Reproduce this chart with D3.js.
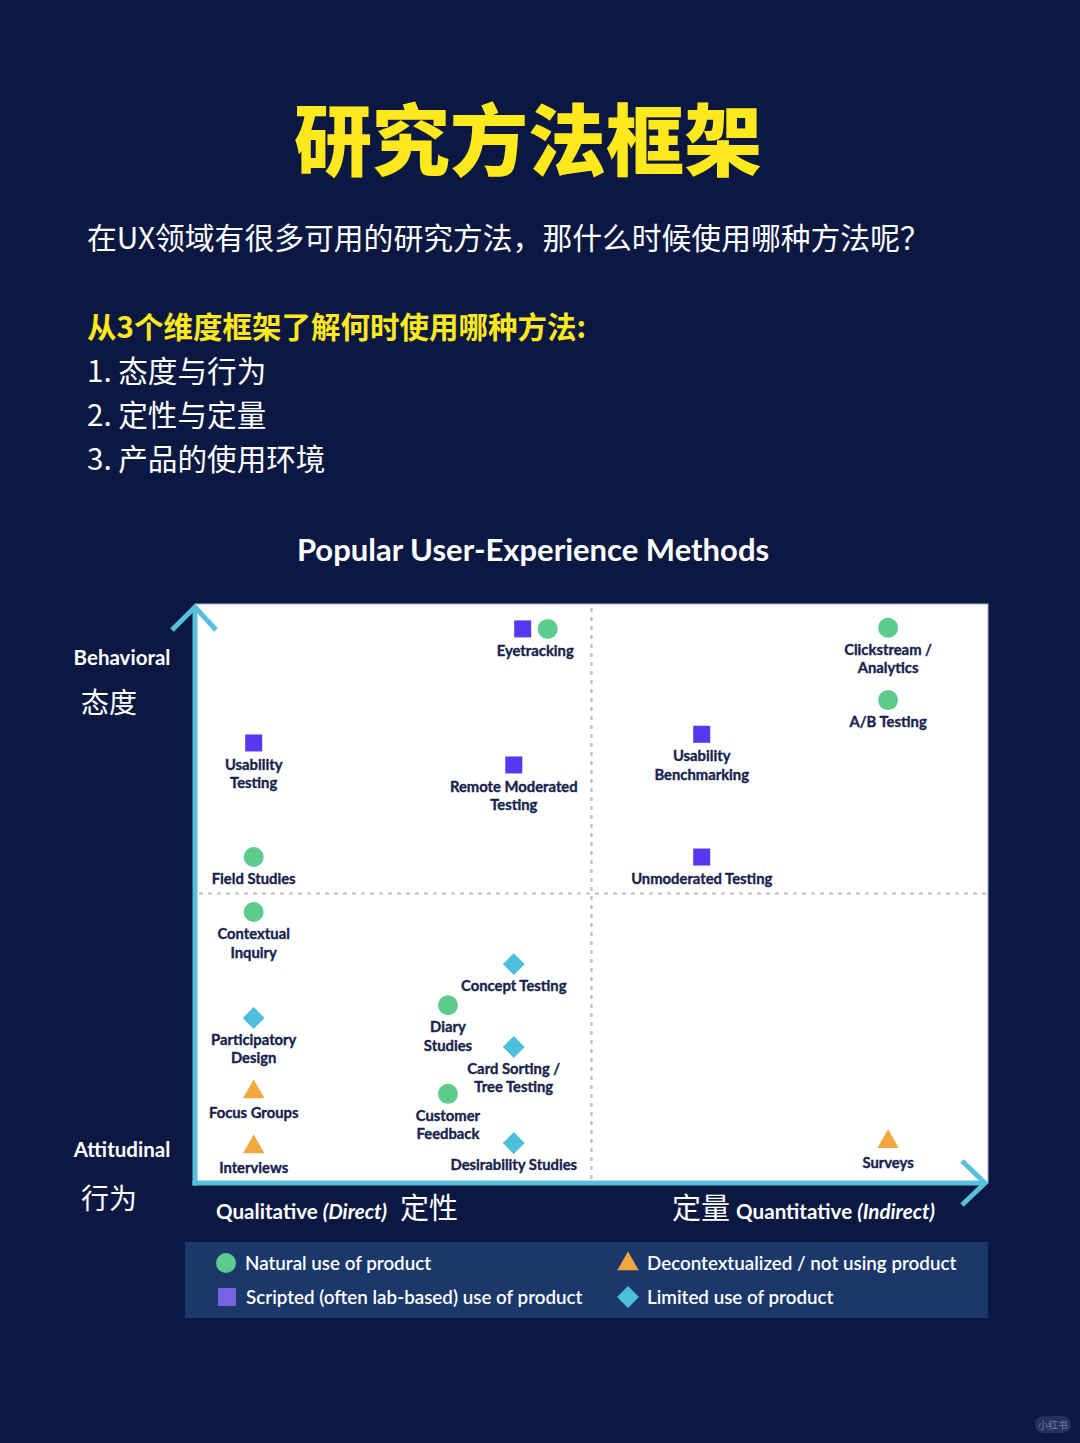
<!DOCTYPE html>
<html><head><meta charset="utf-8">
<script src="https://cdn.jsdelivr.net/npm/d3@7"></script>
<style>
html,body{margin:0;padding:0;background:#0b1942;}
svg{display:block;}
</style></head>
<body>
<svg id="c" width="1080" height="1443"></svg>
<script>
// ---------------- DATA ----------------
const methods = ["Eyetracking","Clickstream /\nAnalytics","A/B Testing","Usability\nBenchmarking","Usability\nTesting","Remote Moderated\nTesting","Field Studies","Unmoderated Testing","Contextual\nInquiry","Concept Testing","Diary\nStudies","Card Sorting /\nTree Testing","Participatory\nDesign","Focus Groups","Customer\nFeedback","Interviews","Desirability Studies","Surveys"];
// x: 0 = most qualitative, 100 = most quantitative
const methodX = [42.9, 87.4, 87.4, 63.9, 7.4, 40.2, 7.4, 63.9, 7.4, 40.2, 31.9, 40.2, 7.4, 7.4, 31.9, 7.4, 40.2, 87.4];
// y: 0 = most attitudinal, 100 = most behavioral
const methodY = [95.7, 95.9, 83.4, 77.5, 76.0, 72.2, 56.3, 56.3, 46.8, 37.8, 30.7, 23.5, 28.5, 15.9, 15.4, 6.4, 6.9, 7.3];
const methodContexts = [["scripted","natural"],["natural"],["natural"],["scripted"],["scripted"],["scripted"],["natural"],["scripted"],["natural"],["limited"],["natural"],["limited"],["limited"],["decontextualized"],["natural"],["decontextualized"],["limited"],["decontextualized"]];
const contextKeys = ["natural","scripted","decontextualized","limited"];
const contextLabels = ["Natural use of product","Scripted (often lab-based) use of product","Decontextualized / not using product","Limited use of product"];
const introList = ["1. 态度与行为","2. 定性与定量","3. 产品的使用环境"];

// ---------------- STYLE ----------------
const svg = d3.select("#c");
const W = 1080, H = 1443;
const cjk = "'Noto Sans CJK SC', sans-serif";
const lat = "Lato, 'Open Sans', sans-serif";
const colors = {natural:"#5ccb8d", scripted:"#5538ef", decontextualized:"#f2a83e", limited:"#4dbedb"};
const legendColors = {natural:"#5ccb8d", scripted:"#7664e4", decontextualized:"#f2a83e", limited:"#4dbedb"};
const axisColor = "#58c0dc";
const textDark = "#17224d";

svg.append("rect").attr("width",W).attr("height",H).attr("fill","#0b1942");

// Titles
svg.append("text").attr("x",528).attr("y",170).attr("text-anchor","middle")
  .attr("font-family",cjk).attr("font-weight",900).attr("font-size",78).attr("fill","#ffe81c")
  .text("研究方法框架");
svg.append("text").attr("x",87).attr("y",249).attr("font-family",cjk).attr("font-size",29.8).attr("fill","#ffffff")
  .text("在UX领域有很多可用的研究方法，那什么时候使用哪种方法呢？");
svg.append("text").attr("x",87).attr("y",338).attr("font-family",cjk).attr("font-weight",700).attr("font-size",29.5).attr("fill","#ffe81c")
  .text("从3个维度框架了解何时使用哪种方法:");
svg.selectAll("text.intro").data(introList).join("text").attr("class","intro")
  .attr("x",87).attr("y",(d,i)=>382+i*44).attr("font-family",cjk).attr("font-size",29.6).attr("fill","#ffffff")
  .text(d=>d);

svg.append("text").attr("x",533).attr("y",561).attr("text-anchor","middle")
  .attr("font-family",lat).attr("font-weight",700).attr("font-size",31).attr("fill","#ffffff")
  .text("Popular User-Experience Methods");

// ---------------- CHART ----------------
const plot = {l:195, r:988, t:604, b:1183};
const x = d3.scaleLinear().domain([0,100]).range([plot.l, plot.r]);
const y = d3.scaleLinear().domain([0,100]).range([plot.b, plot.t]);

svg.append("rect").attr("x",x(0)).attr("y",y(100)).attr("width",x(100)-x(0)).attr("height",y(0)-y(100))
  .attr("fill","#ffffff").attr("stroke","#9fb3d3").attr("stroke-width",1);

// quadrant dividers
const g = svg.append("g");
g.append("line").attr("x1",x(50)).attr("x2",x(50)).attr("y1",y(100)+4).attr("y2",y(0)-3)
  .attr("stroke","#b9bec8").attr("stroke-width",2.2).attr("stroke-dasharray","4,5");
g.append("line").attr("x1",x(0)+4).attr("x2",x(100)).attr("y1",y(50)).attr("y2",y(50))
  .attr("stroke","#b9bec8").attr("stroke-width",2.2).attr("stroke-dasharray","4,5");

// axes with arrows
const ax = svg.append("g").attr("stroke",axisColor).attr("stroke-width",5).attr("fill","none").attr("stroke-linecap","butt");
ax.append("line").attr("x1",x(0)).attr("x2",x(0)).attr("y1",y(0)+2.5).attr("y2",y(100)+3);
ax.append("polyline").attr("points",[[x(0)-23,y(100)+26],[x(0),y(100)+3],[x(0)+21,y(100)+26]].join(" "));
ax.append("line").attr("x1",x(0)-2.5).attr("x2",x(100)-3).attr("y1",y(0)).attr("y2",y(0));
ax.append("polyline").attr("points",[[x(100)-26,y(0)-22],[x(100)-3,y(0)],[x(100)-26,y(0)+22]].join(" "));

// axis labels
const al = svg.append("g").attr("fill","#ffffff");
al.append("text").attr("x",122).attr("y",665).attr("text-anchor","middle").attr("font-family",lat).attr("font-weight",700).attr("font-size",20.5).text("Behavioral");
al.append("text").attr("x",109).attr("y",713).attr("text-anchor","middle").attr("font-family",cjk).attr("font-size",28).text("态度");
al.append("text").attr("x",122).attr("y",1157).attr("text-anchor","middle").attr("font-family",lat).attr("font-weight",700).attr("font-size",20.5).text("Attitudinal");
al.append("text").attr("x",109).attr("y",1209).attr("text-anchor","middle").attr("font-family",cjk).attr("font-size",28).text("行为");

const ql = al.append("text").attr("x",216).attr("y",1219).attr("font-family",lat).attr("font-weight",700).attr("font-size",20.6);
ql.append("tspan").text("Qualitative ");
ql.append("tspan").attr("font-style","italic").text("(Direct)");
ql.append("tspan").attr("font-family",cjk).attr("font-weight",400).attr("font-size",29).attr("dx",13).text("定性");

const qn = al.append("text").attr("x",935).attr("y",1219).attr("text-anchor","end").attr("font-family",lat).attr("font-weight",700).attr("font-size",20.6);
qn.append("tspan").attr("font-family",cjk).attr("font-weight",400).attr("font-size",29).text("定量");
qn.append("tspan").attr("dx",6).text("Quantitative ");
qn.append("tspan").attr("font-style","italic").text("(Indirect)");

// markers
function drawMarker(sel, type, cx, cy, pal){
  const c = pal[type];
  if(type==="natural") sel.append("circle").attr("cx",cx).attr("cy",cy).attr("r",10).attr("fill",c);
  else if(type==="scripted") sel.append("rect").attr("x",cx-8.5).attr("y",cy-8.5).attr("width",17).attr("height",17).attr("fill",c);
  else if(type==="limited") sel.append("path").attr("d",d3.symbol().type(d3.symbolSquare).size(240)()).attr("transform",`translate(${cx},${cy}) rotate(45)`).attr("fill",c);
  else sel.append("path").attr("d",d3.symbol().type(d3.symbolTriangle).size(200)()).attr("transform",`translate(${cx},${cy+1})`).attr("fill",c);
}

const mg = svg.append("g");
methods.forEach((m,i)=>{
  const cx = x(methodX[i]), cy = y(methodY[i]);
  const ctx = methodContexts[i];
  ctx.forEach((t,k)=>{
    const off = (k-(ctx.length-1)/2)*25;
    drawMarker(mg, t, cx+off, cy, colors);
  });
  const lines = m.split("\n");
  const txt = mg.append("text").attr("x",cx).attr("y",cy+27).attr("text-anchor","middle")
    .attr("font-family",lat).attr("font-weight",700).attr("font-size",14.8).attr("fill",textDark)
    .attr("stroke",textDark).attr("stroke-width",0.35);
  lines.forEach((ln,j)=>{
    txt.append("tspan").attr("x",cx).attr("dy",j===0?0:18.5).text(ln);
  });
});

// ---------------- LEGEND ----------------
const lg = svg.append("g");
lg.append("rect").attr("x",185).attr("y",1242).attr("width",803).attr("height",76).attr("fill","#1b386b");
const legPos = [[226,1263],[227,1297],[628,1263],[628,1297]];
contextKeys.forEach((k,i)=>{
  const [lx,ly] = legPos[i];
  if(k==="scripted"){
    lg.append("rect").attr("x",lx-9).attr("y",ly-9).attr("width",18).attr("height",18).attr("fill",legendColors[k]);
  } else drawMarker(lg,k,lx,ly,legendColors);
  lg.append("text").attr("x",lx+19).attr("y",ly+7).attr("font-family",lat).attr("font-weight",600).attr("font-size",18.8).attr("fill","#ffffff").text(contextLabels[i]);
});

// watermark pill
svg.append("rect").attr("x",1035).attr("y",1416).attr("width",36).attr("height",17).attr("rx",8.5).attr("fill","#2b3a63").attr("opacity",0.8);
svg.append("text").attr("x",1053).attr("y",1429).attr("text-anchor","middle").attr("font-family",cjk).attr("font-size",10).attr("fill","#6f7ea3").text("小红书");
</script>
</body></html>
